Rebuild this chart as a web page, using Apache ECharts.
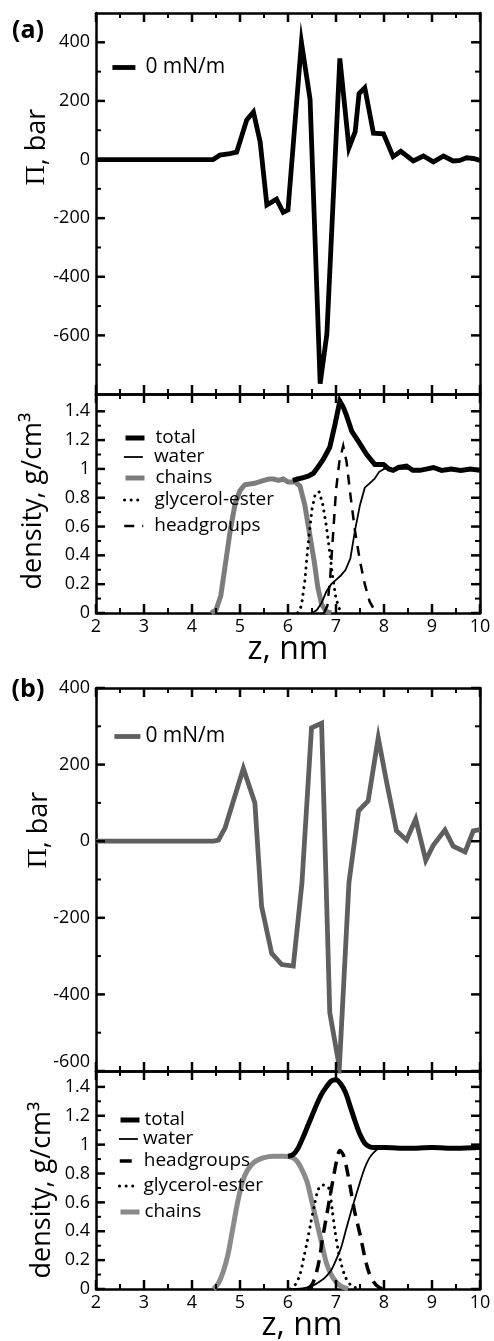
<!DOCTYPE html>
<html><head><meta charset="utf-8">
<script src="https://cdn.jsdelivr.net/npm/echarts@6/dist/echarts.min.js"></script>
<style>html,body{margin:0;padding:0;background:#fff}#c{width:494px;height:1341px}</style>
</head><body><div id="c"></div>
<script>
// ---------- data ----------
const xTicks = [2,3,4,5,6,7,8,9,10];
const xMinorTicks = [2.5,3.5,4.5,5.5,6.5,7.5,8.5,9.5];
const pressureTicksA = [-600,-400,-200,0,200,400];
const pressureMinorA = [-700,-500,-300,-100,100,300];
const pressureTicksB = [-600,-400,-200,0,200,400];
const pressureMinorB = [-500,-300,-100,100,300];
const densityTicks = [0,0.2,0.4,0.6,0.8,1,1.2,1.4];
const densityMinor = [0.1,0.3,0.5,0.7,0.9,1.1,1.3];

// panel (a) lateral pressure, z (nm) vs Pi (bar)
const pressureA = [[2,0],[4.44,0],[4.58,15],[4.79,20],[4.93,25],[5.14,135],[5.28,162],[5.42,60],[5.56,-155],[5.76,-135],[5.9,-180],[6.0,-172],[6.28,400],[6.46,205],[6.67,-765],[6.81,-595],[7.08,345],[7.27,40],[7.4,95],[7.48,225],[7.6,245],[7.78,90],[7.99,88],[8.19,10],[8.35,28],[8.61,-5],[8.82,12],[9.03,-8],[9.24,12],[9.44,-5],[9.58,-3],[9.72,6],[9.86,4],[10,-3]];
// panel (a) densities (g/cm3)
const totalA = [[6.1,0.92],[6.2,0.93],[6.32,0.94],[6.42,0.95],[6.53,0.97],[6.64,1.02],[6.74,1.07],[6.87,1.15],[6.98,1.31],[7.08,1.47],[7.15,1.43],[7.22,1.37],[7.33,1.26],[7.47,1.19],[7.64,1.1],[7.81,1.03],[7.99,1.03],[8.1,1.0],[8.19,0.99],[8.3,1.01],[8.47,1.02],[8.6,0.99],[8.75,0.99],[8.9,1.0],[9.03,1.01],[9.2,0.99],[9.4,1.0],[9.6,0.99],[9.8,1.0],[10,0.99]];
const waterA = [[6.5,0],[6.6,0.02],[6.7,0.07],[6.8,0.15],[6.9,0.2],[7.0,0.23],[7.1,0.26],[7.2,0.3],[7.3,0.38],[7.4,0.58],[7.5,0.75],[7.6,0.87],[7.7,0.9],[7.8,0.93],[7.9,0.98],[8.0,1.0],[10,1.0]];
const chainsA = [[4.4,0],[4.5,0.02],[4.6,0.12],[4.7,0.35],[4.8,0.58],[4.9,0.76],[5.0,0.85],[5.1,0.89],[5.3,0.9],[5.5,0.92],[5.6,0.93],[5.7,0.93],[5.8,0.92],[5.9,0.93],[6.0,0.91],[6.15,0.91],[6.25,0.88],[6.35,0.75],[6.45,0.55],[6.55,0.35],[6.62,0.18],[6.7,0.06],[6.8,0.01],[6.9,0]];
const glycerolA = [[6.2,0],[6.28,0.05],[6.35,0.22],[6.42,0.48],[6.5,0.72],[6.57,0.83],[6.65,0.84],[6.72,0.76],[6.8,0.6],[6.87,0.42],[6.93,0.25],[7.0,0.1],[7.07,0.03],[7.15,0]];
const headgroupsA = [[6.75,0],[6.82,0.05],[6.88,0.25],[6.94,0.55],[7.0,0.85],[7.07,1.05],[7.15,1.16],[7.22,1.05],[7.3,0.82],[7.4,0.56],[7.5,0.36],[7.6,0.2],[7.7,0.08],[7.8,0.02],[7.9,0]];

// panel (b) lateral pressure
const pressureB = [[2,0],[4.45,0],[4.55,3],[4.69,35],[5.07,190],[5.31,100],[5.45,-170],[5.66,-293],[5.87,-322],[6.11,-326],[6.29,-110],[6.49,296],[6.7,308],[6.87,-447],[7.07,-590],[7.27,-108],[7.47,79],[7.67,105],[7.88,270],[8.05,157],[8.26,27],[8.47,3],[8.66,58],[8.87,-50],[9.03,-10],[9.27,29],[9.44,-13],[9.69,-28],[9.86,27],[10,30]];
// panel (b) densities
const totalB = [[6.0,0.92],[6.1,0.93],[6.2,0.97],[6.3,1.04],[6.4,1.12],[6.5,1.2],[6.6,1.28],[6.7,1.35],[6.8,1.4],[6.9,1.44],[7.0,1.45],[7.1,1.42],[7.2,1.36],[7.3,1.26],[7.4,1.16],[7.5,1.07],[7.6,1.01],[7.7,0.985],[7.8,0.98],[8.0,0.98],[8.5,0.975],[9.0,0.98],[9.5,0.975],[10,0.98]];
const waterB = [[6.0,0],[6.3,0.005],[6.5,0.02],[6.7,0.06],[6.8,0.09],[6.9,0.13],[7.0,0.2],[7.1,0.28],[7.2,0.4],[7.3,0.52],[7.4,0.63],[7.5,0.74],[7.6,0.84],[7.7,0.91],[7.8,0.95],[7.9,0.975],[8.0,0.98],[10,0.98]];
const headgroupsB = [[6.4,0],[6.5,0.03],[6.58,0.1],[6.65,0.2],[6.72,0.35],[6.8,0.5],[6.88,0.65],[6.95,0.78],[7.02,0.9],[7.08,0.96],[7.15,0.93],[7.22,0.84],[7.3,0.7],[7.38,0.55],[7.45,0.45],[7.52,0.35],[7.6,0.22],[7.68,0.12],[7.78,0.05],[7.9,0.01],[8.0,0]];
const glycerolB = [[6.05,0],[6.15,0.03],[6.25,0.1],[6.33,0.22],[6.4,0.33],[6.47,0.45],[6.55,0.58],[6.62,0.68],[6.7,0.72],[6.78,0.72],[6.86,0.69],[6.92,0.55],[6.98,0.4],[7.05,0.26],[7.12,0.16],[7.2,0.08],[7.3,0.03],[7.4,0.01],[7.5,0]];
const chainsB = [[4.45,0],[4.55,0.04],[4.65,0.12],[4.75,0.24],[4.85,0.42],[4.95,0.6],[5.05,0.74],[5.15,0.82],[5.3,0.88],[5.5,0.91],[5.7,0.92],[5.9,0.92],[6.1,0.91],[6.2,0.88],[6.3,0.82],[6.4,0.74],[6.5,0.6],[6.6,0.46],[6.7,0.32],[6.8,0.18],[6.9,0.1],[7.0,0.05],[7.1,0.02],[7.25,0]];

// ---------- layout ----------
const FONT = '"Open Sans", "Noto Sans", sans-serif';
const grids = [
  {left:96, top:13, width:384, height:381},
  {left:96, top:394, width:384, height:219},
  {left:96, top:688, width:384, height:383},
  {left:96, top:1071, width:384, height:218}
];
const X_MIN = 2, X_MAX = 10;
const yCfg = [
  {min:-800, max:500, major:200, labels:pressureTicksA, minor:pressureMinorA},
  {min:0, max:1.52, major:0.2, labels:densityTicks, minor:densityMinor},
  {min:-600, max:400, major:200, labels:pressureTicksB, minor:pressureMinorB, vMin:'bottom'},
  {min:0, max:1.51, major:0.2, labels:densityTicks, minor:densityMinor}
];
const AX = {color:'#000', width:2.5};
const xAxes = [], yAxes = [];
grids.forEach((g, i) => {
  ['bottom','top'].forEach(pos => {
    xAxes.push({
      type:'value', gridIndex:i, position:pos, min:X_MIN, max:X_MAX, interval:1,
      axisLine:{show:true, onZero:false, lineStyle:AX},
      axisTick:{show:false}, minorTick:{show:false}, splitLine:{show:false},
      axisLabel:{show: pos==='bottom' && i%2===1, fontSize:18, color:'#000', fontFamily:FONT, margin:5}
    });
  });
  const c = yCfg[i];
  ['left','right'].forEach(pos => {
    yAxes.push({
      type:'value', gridIndex:i, position:pos, min:c.min, max:c.max, interval:c.major,
      axisLine:{show:true, onZero:false, lineStyle:AX},
      axisTick:{show:false}, splitLine:{show:false},
      axisLabel:{show: pos==='left', fontSize:18, color:'#000', fontFamily:FONT, margin:6,
        verticalAlignMinLabel: c.vMin || 'middle',
        formatter: v => { const t = c.labels.find(t => Math.abs(t - v) < 1e-9); return t === undefined ? '' : String(t); }}
    });
  });
});

function line(name, data, g, color, width, type, extra) {
  return Object.assign({
    type:'line', name, data, xAxisIndex:g*2, yAxisIndex:g*2, symbol:'none',
    lineStyle:{color, width, type: type || 'solid', cap:'butt', join:'miter'},
    itemStyle:{color}, animation:false, z:3
  }, extra || {});
}
const DOT = [0.1, 6.5];
const series = [
  line('a|0 mN/m', pressureA, 0, '#000', 4.8),
  line('a|chains', chainsA, 1, '#7c7c7c', 5, 'solid', {z:2}),
  line('a|glycerol-ester', glycerolA, 1, '#000', 3, DOT, {lineStyle:{color:'#000', width:3, type:DOT, cap:'round'}}),
  line('a|headgroups', headgroupsA, 1, '#000', 2.5, [10,8]),
  line('a|water', waterA, 1, '#000', 1.8),
  line('a|total', totalA, 1, '#000', 5, 'solid', {z:4}),
  line('b|0 mN/m', pressureB, 2, '#5f5f5f', 4.8),
  line('b|chains', chainsB, 3, '#8a8a8a', 5, 'solid', {z:2, smooth:0.3}),
  line('b|glycerol-ester', glycerolB, 3, '#000', 3, DOT, {smooth:0.3, lineStyle:{color:'#000', width:3, type:DOT, cap:'round'}}),
  line('b|headgroups', headgroupsB, 3, '#000', 3.5, [12,8], {smooth:0.3}),
  line('b|water', waterB, 3, '#000', 1.8, 'solid', {smooth:0.3}),
  line('b|total', totalB, 3, '#000', 5, 'solid', {z:4, smooth:0.3})
];

function leg(name, left, centerY, iw, fs, gap) {
  return {
    data:[name], left, top:centerY - 10, padding:0, itemWidth:iw, itemHeight:14, selectedMode:false,
    formatter: n => n.split('|')[1],
    itemStyle:{opacity:0}, lineStyle:{width:'inherit'},
    textStyle:{fontSize:fs, lineHeight:20, color:'#000', fontFamily:FONT, padding:[0,0,0,gap]}
  };
}
const legends = [
  leg('a|0 mN/m', 110, 67, 23, 21, 5),
  leg('a|total', 123, 438, 19, 19, 6),
  leg('a|water', 123, 457, 19, 19, 6),
  leg('a|chains', 123, 478, 19, 19, 6),
  leg('a|glycerol-ester', 123, 500, 19, 19, 6),
  leg('a|headgroups', 123, 526, 19, 19, 6),
  leg('b|0 mN/m', 112, 736, 26, 21, 0),
  leg('b|total', 118, 1120, 19, 19, 0),
  leg('b|water', 118, 1139, 19, 19, 0),
  leg('b|headgroups', 118, 1161, 19, 19, 0),
  leg('b|glycerol-ester', 118, 1186, 19, 19, 0),
  leg('b|chains', 118, 1212, 19, 19, 0)
];

function txt(text, x, y, size, opts) {
  return Object.assign({type:'text', x, y, style:Object.assign({text, fontSize:size, fontFamily:FONT, fill:'#000', align:'center', verticalAlign:'middle'}, (opts||{}).style||{})}, (opts||{}).el||{});
}
const piRich = {p:{fontFamily:'"Liberation Serif", "DejaVu Serif", serif', fontSize:28, fill:'#000'}, s:{fontFamily:FONT, fontSize:27, fill:'#000'}};
const graphic = [
  txt('(a)', 28, 31, 25, {style:{fontWeight:'bold'}}),
  txt('(b)', 28, 690, 25, {style:{fontWeight:'bold'}}),
  txt('{p|Π}{s|, bar}', 37, 147, 27, {style:{rich:piRich}, el:{rotation:Math.PI/2}}),
  txt('{p|Π}{s|, bar}', 39, 830, 27, {style:{rich:piRich}, el:{rotation:Math.PI/2}}),
  txt('density, g/cm³', 33, 501, 27, {el:{rotation:Math.PI/2}}),
  txt('density, g/cm³', 42, 1190, 27, {el:{rotation:Math.PI/2}}),
  txt('z, nm', 288, 650, 32),
  txt('z, nm', 302, 1326, 32)
];

const chart = echarts.init(document.getElementById('c'), null, {renderer:'canvas'});
chart.setOption({
  animation:false, backgroundColor:'#fff',
  grid:grids, xAxis:xAxes, yAxis:yAxes, series, legend:legends, graphic
});

// inward tick marks on all four sides, placed through the axes' scales (convertToPixel)
const MAJ = {len:9, w:2.5}, MIN = {len:5, w:2};
const tickRects = [];
try {
  grids.forEach((g, i) => {
    const c = yCfg[i];
    const px = (xv, yv) => chart.convertToPixel({xAxisIndex:i*2, yAxisIndex:i*2}, [xv, yv]);
    const vx = (v, st) => {
      const b = px(v, c.min), t = px(v, c.max);
      tickRects.push({type:'rect', z:100, silent:true, shape:{x:b[0]-st.w/2, y:b[1]-st.len, width:st.w, height:st.len}, style:{fill:'#000'}});
      tickRects.push({type:'rect', z:100, silent:true, shape:{x:t[0]-st.w/2, y:t[1], width:st.w, height:st.len}, style:{fill:'#000'}});
    };
    const vy = (v, st) => {
      const l = px(X_MIN, v), r = px(X_MAX, v);
      tickRects.push({type:'rect', z:100, silent:true, shape:{x:l[0], y:l[1]-st.w/2, width:st.len, height:st.w}, style:{fill:'#000'}});
      tickRects.push({type:'rect', z:100, silent:true, shape:{x:r[0]-st.len, y:r[1]-st.w/2, width:st.len, height:st.w}, style:{fill:'#000'}});
    };
    xTicks.forEach(v => vx(v, MAJ));
    xMinorTicks.forEach(v => vx(v, MIN));
    c.labels.forEach(v => vy(v, MAJ));
    c.minor.forEach(v => vy(v, MIN));
  });
  chart.setOption({graphic: graphic.concat(tickRects)});
} catch (e) { /* keep chart without extra ticks */ }
</script></body></html>
